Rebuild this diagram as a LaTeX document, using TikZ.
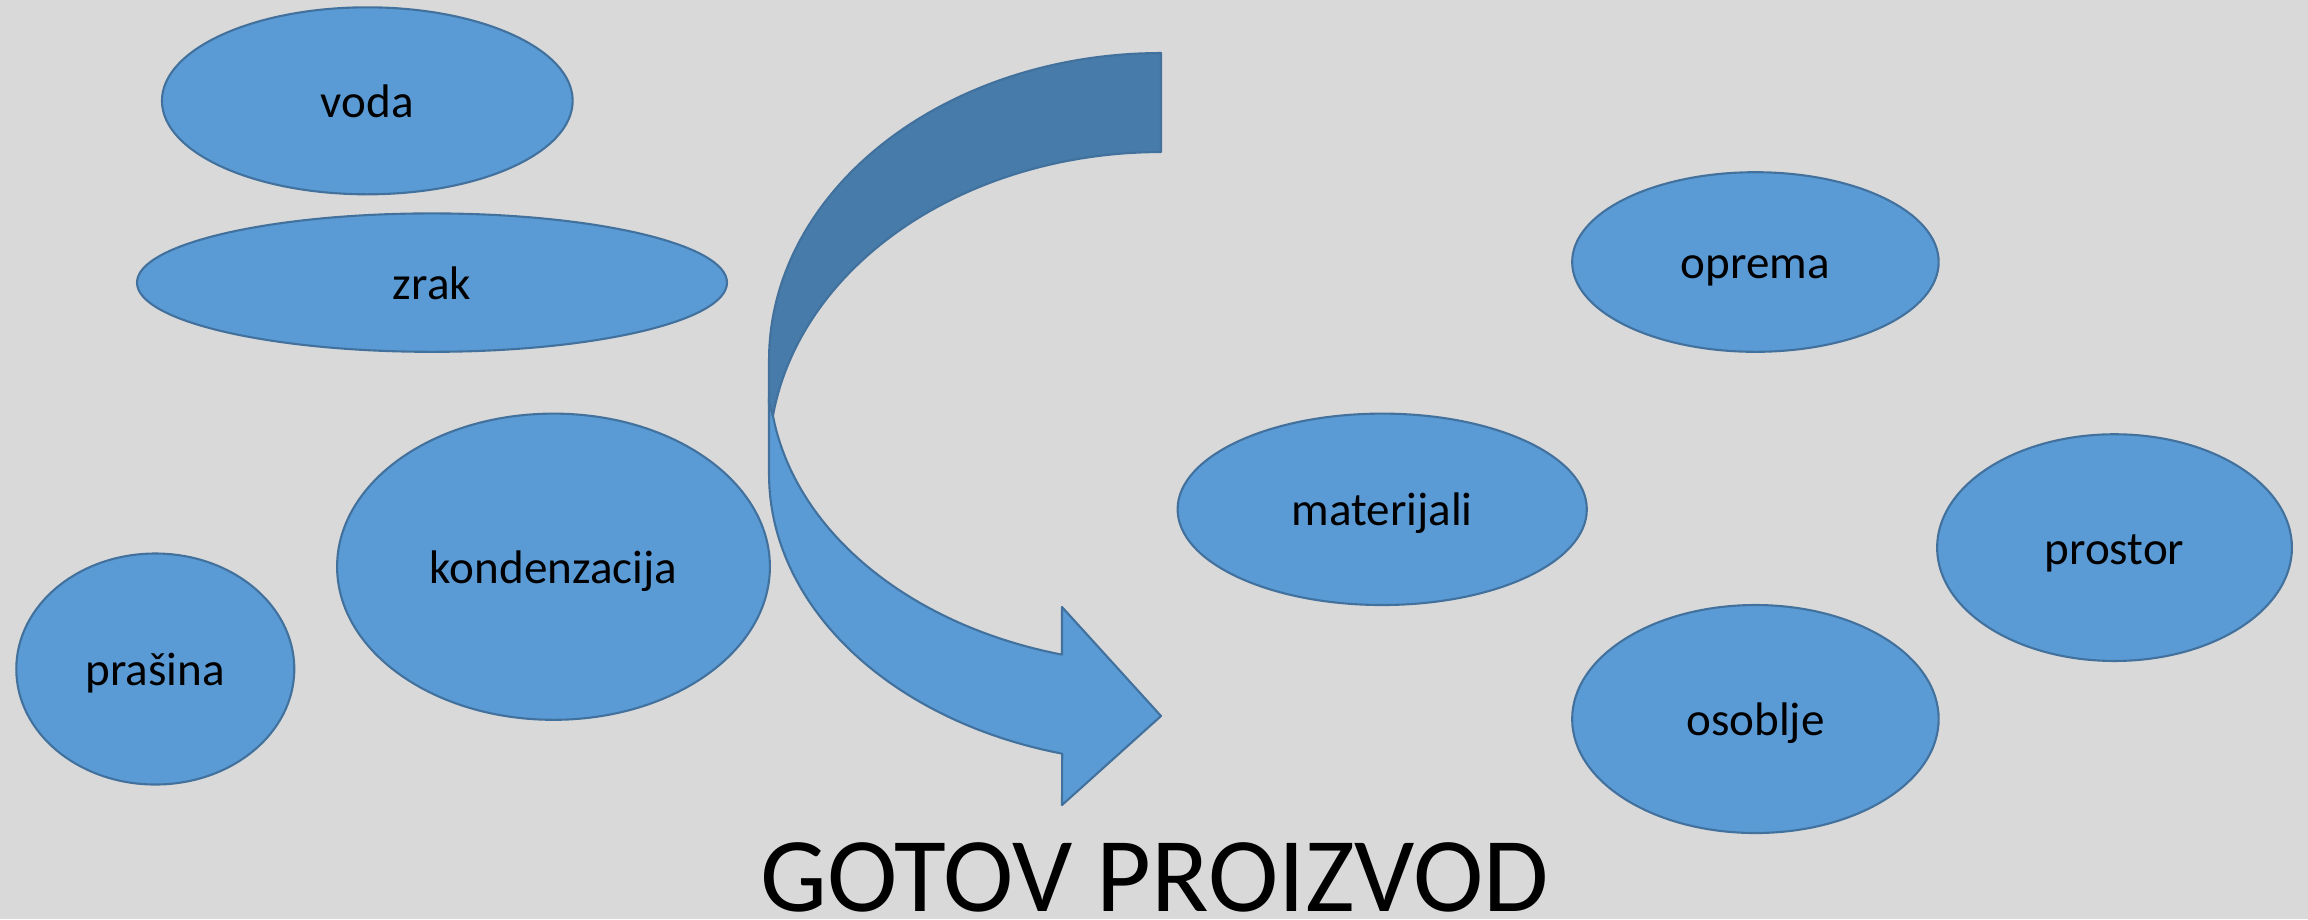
\documentclass[tikz,border=0pt]{standalone}
\usepackage{fontspec}
\setmainfont{Carlito}
\usetikzlibrary{shapes.geometric}
\definecolor{bg}{HTML}{D9D9D9}
\definecolor{blob}{HTML}{5B9BD5}
\definecolor{blobline}{HTML}{41719C}
\definecolor{darkband}{HTML}{477BA9}
\begin{document}
\begin{tikzpicture}[x=0.1mm,y=-0.1mm,
  blobnode/.style={ellipse,draw=blobline,fill=blob,line width=0.6pt,inner sep=0pt,
    font=\fontsize{13.4}{16}\selectfont,text=black,text height=12pt,text depth=2.6pt},
  bandshape/.style={draw=blobline,line width=0.6pt,line join=round}]
\fill[bg] (0,0) rectangle (2308,919);
\useasboundingbox (0,0) rectangle (2308,919);

\node[blobnode,minimum width=41.07mm,minimum height=18.7mm] (voda) at (367.3,100.8) {voda};
\node[blobnode,minimum width=59mm,minimum height=13.84mm] (zrak) at (432,282.6) {zrak};
\node[blobnode,minimum width=43.28mm,minimum height=30.62mm] (kond) at (553.5,566.7) {kondenzacija};
\node[blobnode,minimum width=27.8mm,minimum height=23.1mm] (prasina) at (155.3,669) {prašina};
\node[blobnode,minimum width=40.92mm,minimum height=19.14mm] (mat) at (1382.2,509.3) {materijali};
\node[blobnode,minimum width=36.65mm,minimum height=17.96mm] (oprema) at (1755.4,262) {oprema};
\node[blobnode,minimum width=35.48mm,minimum height=22.67mm] (prostor) at (2114.5,547.6) {prostor};
\node[blobnode,minimum width=36.65mm,minimum height=22.8mm] (osoblje) at (1755.4,719) {osoblje};

% curved arrow: lower (light) band
\coordinate (M) at (772.9,415.7);
\filldraw[bandshape,fill=blob] (M) -- (769,398) -- (769,474)
  -- plot[domain=180:104.6,samples=50] ({1161+392*cos(\x)},{474+289*sin(\x)})
  -- (1062,805) -- (1161,716) -- (1062,607) -- (1062,654.6)
  -- plot[domain=104.6:171.9,samples=50] ({1161+392*cos(\x)},{375+289*sin(\x)})
  -- cycle;
% upper (dark) band
\filldraw[bandshape,fill=darkband] (1161,53)
  -- plot[domain=270:180,samples=60] ({1161+392*cos(\x)},{360+307*sin(\x)})
  -- (769,403) -- (M)
  -- plot[domain=188.1:270,samples=60] ({1161+392*cos(\x)},{459+307*sin(\x)})
  -- cycle;

\node[anchor=base,font=\fontsize{30.2}{34}\selectfont,inner sep=0pt] (gotov) at (1154.8,911) {GOTOV PROIZVOD};
\end{tikzpicture}
\end{document}
